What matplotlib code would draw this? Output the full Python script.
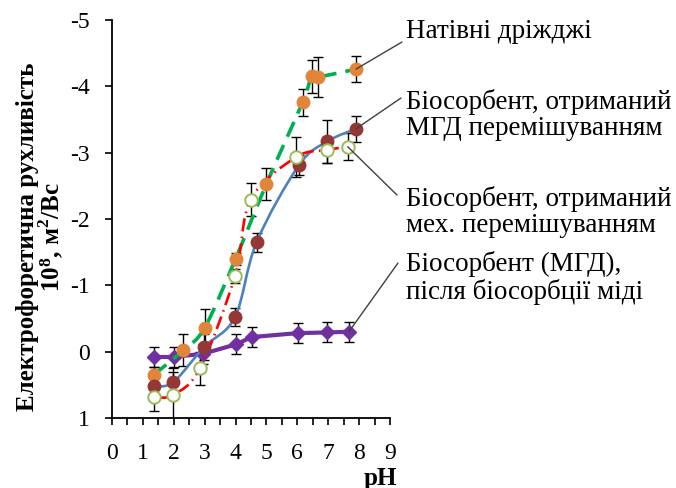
import matplotlib
matplotlib.use("Agg")
import matplotlib.pyplot as plt
from matplotlib.path import Path
from matplotlib.patches import PathPatch

plt.rcParams['font.family'] = ['Liberation Serif', 'DejaVu Serif']
plt.rcParams['mathtext.fontset'] = 'custom'
plt.rcParams['mathtext.rm'] = 'Liberation Serif'
plt.rcParams['mathtext.bf'] = 'Liberation Serif:bold'
plt.rcParams['axes.unicode_minus'] = False

# Native yeast
ph_native = [1.35, 2.3, 3.0, 4.0, 5.0, 6.17, 6.46, 6.68, 7.9]
mob_native = [0.35, -0.02, -0.36, -1.40, -2.53, -3.76, -4.15, -4.14, -4.26]
err_native = [0.12, 0.24, 0.28, 0.09, 0.24, 0.2, 0.25, 0.3, 0.2]

# Biosorbent, MHD mixing
ph_mhd = [1.35, 1.98, 2.98, 3.98, 4.68, 6.05, 6.97, 7.9]
mob_mhd = [0.52, 0.46, -0.07, -0.52, -1.65, -2.81, -3.17, -3.36]
err_mhd = [0.15, 0.15, 0.2, 0.14, 0.14, 0.15, 0.32, 0.2]

# Biosorbent, mechanical mixing
ph_mech = [1.35, 1.98, 2.85, 3.98, 4.49, 5.95, 6.95, 7.63]
mob_mech = [0.69, 0.65, 0.25, -1.14, -2.29, -2.93, -3.04, -3.09]
err_mech = [0.2, 0.4, 0.25, 0.1, 0.25, 0.3, 0.19, 0.2]

# Biosorbent (MHD) after copper biosorption
ph_cu = [1.35, 2.0, 2.96, 4.01, 4.52, 6.01, 6.95, 7.67]
mob_cu = [0.08, 0.08, 0.03, -0.11, -0.22, -0.28, -0.29, -0.30]
err_cu = [0.15, 0.15, 0.15, 0.15, 0.15, 0.15, 0.15, 0.15]

labels = ['Натівні дріжджі',
          'Біосорбент, отриманий\nМГД перемішуванням',
          'Біосорбент, отриманий\nмех. перемішуванням',
          'Біосорбент (МГД),\nпісля біосорбції міді']

yticks = [1, 0, -1, -2, -3, -4, -5]
ytick_labels = ['1', '0', '-1', '-2', '-3', '-4', '-5']
xticks = list(range(10))


def smooth_path(xs, ys):
    # Bezier spline through the points (Catmull-Rom style control points)
    pts = list(zip(xs, ys))
    n = len(pts)
    verts = [pts[0]]
    codes = [Path.MOVETO]
    for i in range(n - 1):
        p0 = pts[i - 1] if i > 0 else pts[i]
        p1 = pts[i]
        p2 = pts[i + 1]
        p3 = pts[i + 2] if i + 2 < n else pts[i + 1]
        c1 = (p1[0] + (p2[0] - p0[0]) / 6, p1[1] + (p2[1] - p0[1]) / 6)
        c2 = (p2[0] - (p3[0] - p1[0]) / 6, p2[1] - (p3[1] - p1[1]) / 6)
        verts += [c1, c2, p2]
        codes += [Path.CURVE4] * 3
    return Path(verts, codes)


fig = plt.figure(figsize=(6.76, 4.88), dpi=100)
ax = fig.add_axes([0.1657, 0.1434, 0.4112, 0.8156])

# error bars (under the markers)
for xs, ys, es in [(ph_cu, mob_cu, err_cu), (ph_native, mob_native, err_native),
                   (ph_mhd, mob_mhd, err_mhd), (ph_mech, mob_mech, err_mech)]:
    ax.errorbar(xs, ys, yerr=es, fmt='none', ecolor='black', elinewidth=1.0,
                capsize=3.5, capthick=1.0, zorder=2)

# copper-loaded biosorbent
ax.plot(ph_cu, mob_cu, color='#7030A0', lw=3.0, marker='D', ms=7,
        zorder=3, solid_capstyle='round')

# native yeast
ax.add_patch(PathPatch(smooth_path(ph_native, mob_native), fill=False,
                       edgecolor='#00B050', lw=2.6, linestyle=(0, (4.5, 2.5)), zorder=4))
ax.plot(ph_native, mob_native, linestyle='none', marker='o', ms=9,
        mfc='#E0853A', mec='#E0853A', zorder=5)

# MHD mixing
ax.add_patch(PathPatch(smooth_path(ph_mhd, mob_mhd), fill=False,
                       edgecolor='#4F81BD', lw=1.9, zorder=4))
ax.plot(ph_mhd, mob_mhd, linestyle='none', marker='o', ms=9,
        mfc='#953735', mec='#953735', zorder=6)

# mechanical mixing
ax.add_patch(PathPatch(smooth_path(ph_mech, mob_mech), fill=False,
                       edgecolor='#FF0000', lw=1.9,
                       linestyle=(0, (5, 2, 0.6, 2)), zorder=4))
ax.plot(ph_mech, mob_mech, linestyle='none', marker='o', ms=9,
        mfc='white', mec='#9BBB59', mew=1.4, zorder=7)

ax.set_xlim(0, 9)
ax.set_ylim(1, -5)
ax.set_xticks(xticks)
ax.set_xticks([x + 0.5 for x in range(9)], minor=True)
ax.set_yticks(yticks)
ax.set_yticklabels(ytick_labels)
ax.tick_params(axis='both', which='both', direction='out', length=5,
               width=1.2, labelsize=17, color='black')
ax.tick_params(axis='x', pad=13)
ax.tick_params(axis='y', pad=11)
for s in ['top', 'right']:
    ax.spines[s].set_visible(False)
for s in ['left', 'bottom']:
    ax.spines[s].set_linewidth(1.3)

ax.set_ylabel('Електрофоретична рухливість\n$\\mathbf{10^{8}}$, м$^{\\mathbf{2}}$/Вс',
              fontsize=18, fontweight='bold', linespacing=0.9)
ax.yaxis.set_label_coords(-0.165, 0.455)
fig.text(380 / 676, 1 - 478 / 488, 'pH', fontsize=18, fontweight='bold',
         ha='center', va='center')

# callout lines and captions
ends = [(ph_native[-1], mob_native[-1], 402, 42),
        (ph_mhd[-1], mob_mhd[-1], 401, 98),
        (ph_mech[-1], mob_mech[-1], 397, 195),
        (ph_cu[-1], mob_cu[-1], 398, 263)]
for px, py, fx, fy in ends:
    ax.annotate('', xy=(px, py), xycoords='data',
                xytext=(fx, 488 - fy), textcoords='figure pixels',
                arrowprops=dict(arrowstyle='-', color='#404040', lw=1.0,
                                shrinkA=0, shrinkB=0),
                annotation_clip=False, zorder=8)

text_pos = [(406, 31), (406, 115), (406, 212), (406, 278)]
for (tx, ty), lab in zip(text_pos, labels):
    fig.text(tx / 676, 1 - ty / 488, lab, fontsize=19.5, ha='left', va='center',
             linespacing=1.08)

fig.savefig('out.png', dpi=100)
